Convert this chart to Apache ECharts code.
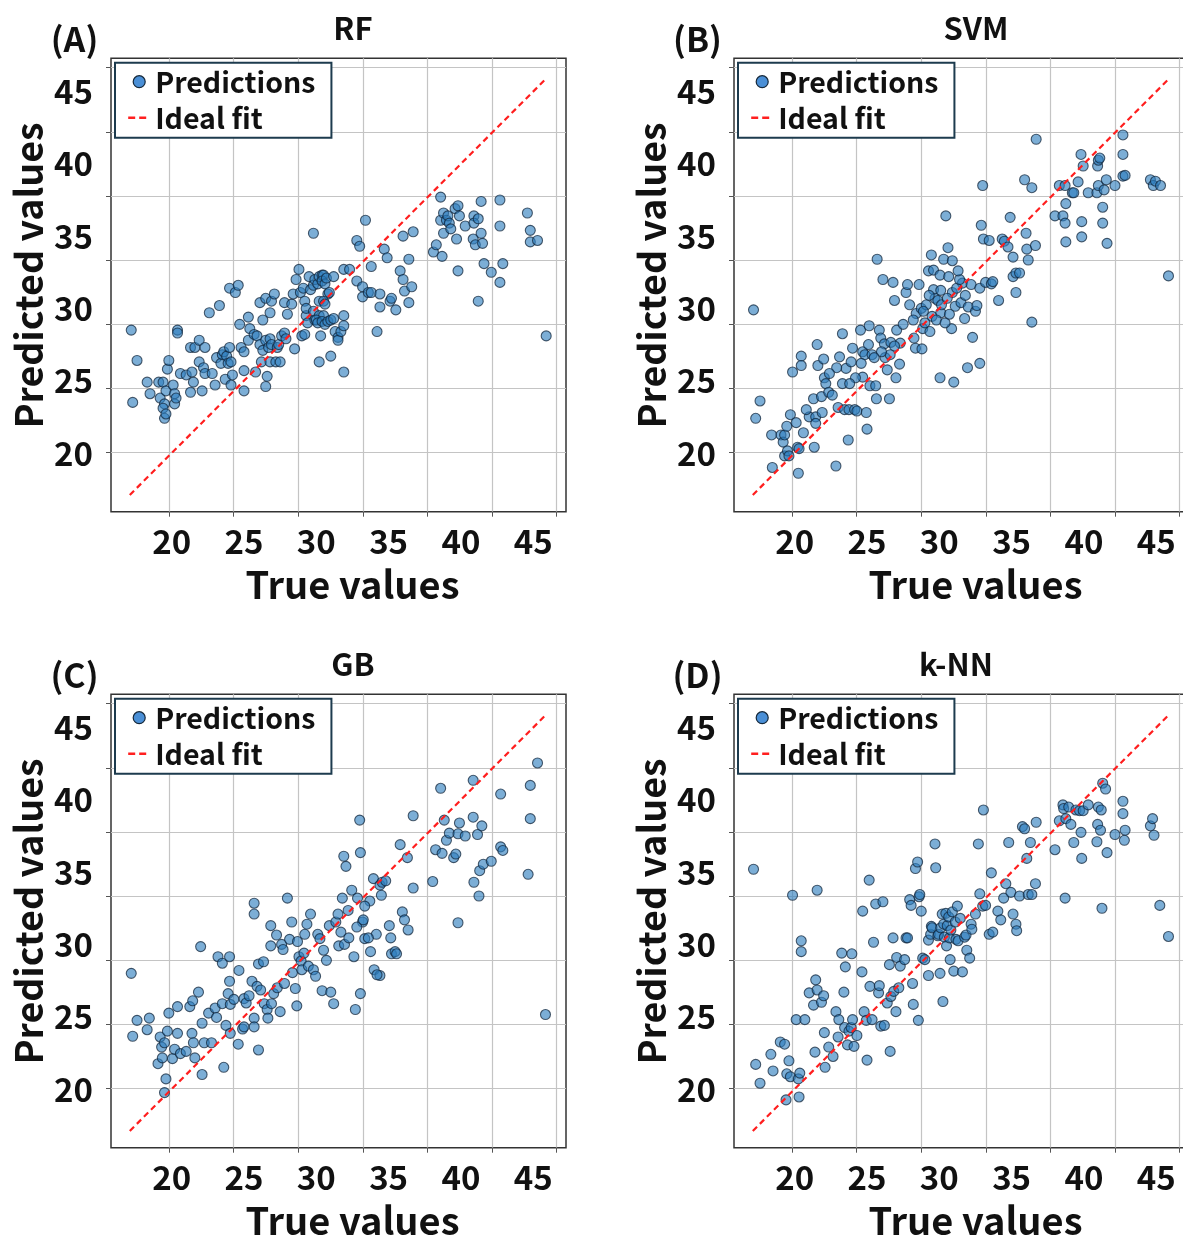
<!DOCTYPE html>
<html>
<head>
<meta charset="utf-8">
<script src="https://cdn.jsdelivr.net/npm/echarts@6/dist/echarts.min.js"></script>
<style>
  html, body { margin: 0; padding: 0; background: #fff; }
  #chart { width: 1183px; height: 1243px; }
</style>
</head>
<body>
<div id="chart"></div>
<script>
// panel titles and tags
const panelNames = ['RF', 'SVM', 'GB', 'k-NN'];
const panelTags = ['(A)', '(B)', '(C)', '(D)'];

// tick labels printed on both axes, and the values where the grid lines sit
const tickLabels = [20, 25, 30, 35, 40, 45];
const gridTicksX = [19.81, 24.28, 28.75, 33.22, 37.68, 42.15, 46.62];
const gridTicksY = [20.05, 24.48, 28.91, 33.35, 37.78, 42.21, 46.65];

// ideal fit runs from min to max true value
const idealRange = [17.1, 45.85];

// [true, predicted]
const rfPoints = [
  [17.2,28.5],[17.3,23.5],[17.6,26.4],[18.3,24.9],[18.5,24.1],[19.1,24.9],[19.4,24.9],[19.2,23.8],[19.5,23.4],[19.4,23.1],
  [19.5,22.4],[19.6,22.7],[19.6,24.3],[19.7,25.8],[19.8,26.4],[20.1,24.7],[20.2,24.1],[20.2,23.4],[20.3,23.8],[20.4,28.5],
  [20.4,28.3],[20.6,25.5],[21.0,25.4],[21.3,27.3],[21.3,24.2],[21.4,25.6],[21.5,24.9],[21.6,27.3],[21.9,27.8],[21.9,26.3],
  [22.1,24.3],[22.2,25.9],[22.3,27.3],[22.3,25.5],[22.6,29.7],[22.8,25.5],[23.0,24.7],[23.3,30.2],[23.1,26.6],[23.4,26.2],
  [23.5,26.8],[23.6,27.0],[23.7,25.1],[23.8,26.7],[23.9,26.2],[24.0,27.3],[24.0,31.4],[24.1,26.3],[24.1,24.7],[24.2,25.4],
  [24.4,31.1],[24.6,31.6],[24.7,28.9],[24.8,27.3],[25.0,24.3],[25.0,25.7],[25.0,27.0],[25.3,27.8],[25.3,29.4],[25.4,28.6],
  [25.7,28.2],[25.8,25.6],[25.9,28.1],[26.1,30.4],[26.1,27.5],[26.2,26.3],[26.3,29.2],[26.3,27.1],[26.5,30.7],[26.5,27.8],
  [26.6,25.3],[26.5,24.6],[26.7,27.3],[26.8,29.7],[26.8,27.9],[26.8,26.3],[26.9,30.5],[26.9,27.5],[27.1,31.0],[27.2,26.3],
  [27.3,27.3],[27.4,27.5],[27.5,26.3],[27.6,28.1],[27.8,28.3],[27.8,30.4],[27.9,27.9],[28.0,29.6],[28.3,30.3],[28.4,31.0],
  [28.5,27.2],[28.6,32.0],[28.8,32.7],[28.9,31.1],[29.0,28.1],[29.1,31.4],[29.2,28.2],[29.2,30.5],[29.3,29.5],[29.3,30.0],
  [29.4,29.0],[29.5,32.2],[29.6,31.3],[29.8,31.6],[29.8,29.8],[29.9,32.0],[29.9,29.2],[29.8,35.2],[30.1,31.7],[30.2,32.2],
  [30.4,32.3],[30.5,32.3],[30.4,31.9],[30.6,31.7],[30.7,32.1],[30.8,31.0],[30.9,31.1],[31.2,32.2],[30.2,30.5],[30.5,30.5],
  [30.6,30.3],[30.2,29.5],[30.5,29.5],[30.0,29.2],[30.1,29.0],[30.4,29.1],[30.6,28.9],[30.8,29.1],[31.0,29.2],[30.3,28.1],
  [30.2,26.3],[31.2,29.3],[31.3,28.4],[31.5,28.0],[31.5,27.8],[31.7,28.4],[31.9,29.5],[31.9,28.8],[31.9,25.6],[31.0,26.7],
  [31.9,32.7],[32.3,32.7],[32.8,34.7],[33.0,34.3],[33.4,36.1],[33.8,32.9],[32.8,31.9],[33.2,31.5],[33.2,30.8],[33.6,31.1],
  [33.8,31.1],[34.2,28.4],[34.4,31.0],[34.4,30.1],[34.7,34.1],[34.9,33.5],[35.1,30.5],[35.2,30.7],[35.5,29.9],[35.8,32.6],
  [36.0,35.0],[36.0,32.0],[36.1,31.2],[36.4,33.4],[36.4,30.4],[36.6,31.5],[36.7,35.3],[38.1,33.9],[38.3,34.4],[38.6,36.1],
  [38.7,33.6],[38.8,35.2],[38.6,37.7],[38.8,36.6],[39.0,36.1],[39.1,36.4],[39.2,35.9],[39.3,35.5],[39.6,36.9],[39.8,37.1],
  [39.9,36.4],[39.7,34.8],[39.8,32.6],[40.3,35.7],[40.9,36.4],[40.9,35.9],[40.85,34.8],[41.0,34.4],[41.2,36.2],[41.4,37.4],
  [41.4,35.2],[41.5,34.5],[41.2,30.5],[41.6,33.1],[42.1,32.5],[42.7,37.5],[42.7,35.7],[42.9,33.1],[42.7,31.8],[44.6,36.6],
  [44.8,35.4],[44.8,34.6],[45.3,34.7],[45.9,28.1]
];

const svmPoints = [
  [17.15,29.9],[17.3,22.4],[17.6,23.6],[18.4,21.25],[18.45,19.0],[19.05,21.25],[19.2,20.75],[19.3,21.25],[19.45,21.85],[19.3,19.8],
  [19.5,20.15],[19.6,19.8],[19.7,22.65],[19.85,25.6],[20.1,22.1],[20.2,20.4],[20.25,18.6],[20.3,20.3],[20.45,26.7],[20.45,26.05],
  [20.6,21.4],[21.0,22.5],[21.3,23.75],[21.35,20.4],[21.45,22.5],[21.45,22.05],[21.55,27.5],[21.6,26.05],[21.85,23.9],[22.0,26.5],
  [22.05,25.2],[22.15,24.8],[22.35,24.2],[22.6,24.0],[22.85,19.1],[23.0,23.15],[23.1,26.65],[23.3,28.25],[23.3,24.8],[23.45,23.0],
  [23.55,25.85],[23.7,20.9],[23.75,23.0],[23.9,26.3],[24.0,27.25],[24.15,23.0],[24.3,22.9],[24.55,28.5],[24.7,25.25],[24.7,27.0],
  [24.85,26.8],[24.95,22.8],[25.0,21.65],[25.15,28.8],[25.2,24.65],[25.35,26.8],[25.6,24.65],[25.65,23.75],[25.7,33.4],[25.85,28.5],
  [25.95,27.95],[26.1,32.0],[26.2,27.55],[26.25,26.6],[26.4,25.75],[26.55,23.75],[26.65,27.65],[26.8,31.8],[26.9,30.55],[27.05,28.5],
  [27.0,25.2],[27.25,26.15],[27.7,31.1],[27.8,31.65],[27.95,30.25],[28.25,27.95],[28.35,27.25],[28.4,29.65],[28.6,31.65],[28.75,30.0],
  [28.8,27.2],[28.85,28.6],[29.1,30.25],[29.25,32.6],[29.35,28.4],[29.5,29.45],[29.6,32.65],[29.6,31.3],[29.7,30.7],[29.45,33.7],
  [30.05,32.3],[30.1,31.25],[30.1,29.7],[30.3,33.4],[30.45,36.4],[30.65,32.2],[30.85,28.6],[30.9,31.1],[31.1,30.15],[31.5,30.4],
  [31.6,31.75],[31.75,29.3],[31.95,25.9],[32.2,31.65],[29.9,30.55],[30.15,30.25],[30.55,30.7],[30.05,25.2],[31.0,24.9],[29.0,29.0],
  [29.3,30.9],[29.8,29.2],[30.4,29.0],[30.7,29.6],[31.2,31.4],[31.4,32.0],[31.8,30.9],[32.0,30.1],[32.5,29.8],[32.6,30.2],
  [28.9,29.8],[28.2,29.2],[27.5,28.9],[27.3,27.6],[26.9,27.4],[26.6,26.8],[26.0,27.0],[25.5,26.6],[25.1,27.5],[24.6,26.2],
  [24.2,25.2],[23.8,24.8],[22.9,25.9],[22.4,25.5],[21.9,22.8],[20.8,23.0],[32.3,28.0],[32.8,26.2],[31.3,32.6],[30.9,33.3],
  [30.6,34.2],[32.8,31.4],[33.0,38.5],[33.05,34.8],[32.9,35.75],[33.2,31.8],[33.45,34.7],[33.6,31.7],[33.7,31.85],[34.1,30.55],
  [34.35,34.8],[34.5,34.65],[34.75,34.25],[34.9,36.3],[35.1,33.55],[35.1,32.2],[35.3,32.45],[35.3,31.1],[35.55,32.45],[35.9,38.9],
  [36.0,35.2],[36.05,34.1],[36.15,33.35],[36.4,38.35],[36.4,29.05],[36.65,34.35],[36.7,41.7],[38.0,36.4],[38.3,38.5],[38.55,36.4],
  [38.7,38.5],[38.7,35.9],[38.75,37.25],[38.75,34.6],[39.2,38.0],[39.3,38.0],[39.6,38.75],[39.8,40.65],[39.85,36.0],[39.85,34.95],
  [39.95,39.85],[40.3,38.0],[40.9,38.0],[40.95,39.85],[41.0,40.25],[41.1,40.4],[41.0,38.5],[41.3,37.0],[41.3,35.9],[41.4,38.2],
  [41.55,38.9],[41.6,34.5],[42.15,38.5],[42.7,42.0],[42.7,40.65],[42.7,39.15],[42.85,39.2],[44.6,38.9],[44.8,38.5],[44.95,38.8],
  [45.3,38.5],[45.85,32.25]
];

const gbPoints = [
  [17.2,28.0],[17.3,23.65],[17.6,24.75],[18.3,24.1],[18.45,24.9],[19.05,21.75],[19.2,23.6],[19.3,22.9],[19.35,22.15],[19.5,23.2],
  [19.5,19.75],[19.6,20.7],[19.8,25.25],[19.7,24.0],[20.05,22.1],[20.2,22.75],[20.4,23.85],[20.4,25.7],[20.6,22.45],[21.0,22.6],
  [21.25,25.7],[21.4,23.85],[21.45,26.1],[21.5,23.2],[21.6,22.15],[21.85,26.7],[22.0,29.85],[22.1,21.0],[22.1,24.55],[22.25,23.2],
  [22.55,25.25],[22.75,23.2],[23.0,25.6],[23.1,24.95],[23.2,29.15],[23.5,28.7],[23.5,25.9],[23.6,21.5],[23.75,24.4],[23.9,26.6],
  [24.0,29.15],[24.0,27.45],[24.05,23.85],[24.05,25.85],[24.3,26.2],[24.6,23.1],[24.65,28.2],[24.9,24.15],[25.0,24.3],[25.0,26.25],
  [25.15,25.95],[25.35,26.45],[25.55,27.45],[25.7,32.85],[25.7,32.1],[25.7,24.9],[25.7,24.3],[25.9,27.1],[26.0,22.7],[26.0,28.65],
  [26.15,26.85],[26.35,28.8],[26.4,25.9],[26.6,25.5],[26.65,24.9],[26.85,29.9],[26.85,31.3],[26.9,25.9],[27.05,26.6],[27.25,30.65],
  [27.3,27.0],[27.5,25.35],[27.6,30.0],[27.7,29.65],[27.8,27.3],[28.0,33.2],[28.15,30.35],[28.3,31.55],[28.35,28.05],[28.55,26.95],
  [28.65,25.75],[28.7,30.2],[28.8,29.15],[28.95,28.85],[29.0,28.25],[29.15,29.4],[29.2,30.7],[29.35,31.4],[29.45,28.5],[29.6,32.1],
  [29.8,28.25],[29.95,27.8],[30.1,30.7],[30.25,30.4],[30.4,26.8],[30.5,29.6],[30.7,28.9],[30.9,31.3],[31.0,26.7],[31.2,25.9],
  [31.35,31.55],[31.5,32.1],[31.55,29.9],[31.7,30.85],[31.8,33.2],[31.9,36.1],[31.95,30.0],[32.05,35.4],[32.2,32.35],[32.25,30.45],
  [32.45,33.75],[32.6,29.15],[32.7,25.5],[32.85,33.2],[33.05,26.6],[33.2,31.55],[33.35,30.4],[33.7,33.0],[33.95,34.55],[34.0,28.25],
  [34.15,30.7],[34.4,27.85],[32.8,31.2],[33.0,38.6],[33.05,36.35],[33.25,31.7],[33.35,32.65],[33.6,30.45],[33.75,29.5],[34.2,27.9],
  [34.4,34.1],[34.5,33.4],[34.55,34.3],[34.8,34.4],[35.05,31.3],[35.15,30.45],[35.2,29.35],[35.45,29.5],[35.55,29.35],[35.8,36.9],
  [35.95,32.25],[36.1,31.7],[36.3,36.0],[36.35,31.0],[36.7,38.9],[36.7,33.9],[38.05,34.35],[38.25,36.55],[38.6,40.8],[38.7,36.3],
  [38.85,38.6],[39.0,37.2],[39.2,37.7],[39.5,36.0],[39.65,36.25],[39.8,37.65],[39.9,38.4],[39.8,31.5],[40.3,37.5],[40.85,41.35],
  [40.85,38.8],[40.9,34.3],[41.15,37.6],[41.25,33.35],[41.3,35.1],[41.45,38.2],[41.55,35.55],[42.1,35.75],[42.75,40.4],[42.75,36.75],
  [42.9,36.5],[44.65,34.85],[44.8,41.0],[44.8,38.7],[45.3,42.55],[45.85,25.15]
];

const knnPoints = [
  [17.15,35.2],[17.3,21.7],[17.6,20.4],[18.35,22.4],[18.5,21.25],[19.0,23.25],[19.3,23.1],[19.4,19.25],[19.45,21.05],[19.6,21.95],
  [19.7,20.85],[19.85,33.4],[20.1,24.8],[20.25,20.7],[20.3,19.45],[20.35,21.1],[20.45,30.25],[20.45,29.5],[20.7,24.8],[21.0,26.65],
  [21.3,25.8],[21.4,22.55],[21.45,27.55],[21.55,33.75],[21.55,26.85],[21.85,26.0],[22.0,26.45],[22.05,23.9],[22.1,21.5],[22.35,22.9],
  [22.65,22.25],[22.85,25.35],[23.0,23.6],[23.05,24.8],[23.25,29.4],[23.4,26.7],[23.45,24.25],[23.5,28.45],[23.65,23.05],[23.75,24.0],
  [23.9,24.25],[23.95,29.35],[24.0,24.8],[24.1,22.95],[24.3,23.7],[24.65,28.1],[24.7,32.3],[24.8,25.35],[24.95,24.75],[25.0,22.0],
  [25.15,34.45],[25.2,27.1],[25.35,24.8],[25.45,30.15],[25.6,32.8],[25.8,26.65],[25.85,27.15],[25.95,24.35],[26.1,32.95],[26.2,24.4],
  [26.4,25.95],[26.55,28.6],[26.6,22.6],[26.65,26.4],[26.8,30.45],[26.85,26.75],[27.0,25.35],[27.05,29.1],[27.2,27.0],[27.3,28.5],
  [27.6,28.95],[27.7,30.45],[27.8,30.45],[27.95,33.1],[28.05,32.7],[28.15,27.3],[28.2,25.85],[28.35,35.25],[28.5,35.7],[28.55,24.75],
  [28.6,33.3],[28.65,33.45],[28.75,32.3],[28.85,29.05],[29.0,28.95],[29.25,27.85],[29.25,30.3],[29.4,30.7],[29.45,31.25],[29.5,31.15],
  [29.7,36.95],[29.75,35.3],[29.9,30.6],[29.95,30.7],[30.05,28.0],[30.1,31.15],[30.2,32.1],[30.25,26.05],[30.3,31.4],[30.35,30.5],
  [30.45,32.15],[30.5,29.9],[30.55,31.3],[30.65,31.9],[30.7,30.45],[30.75,28.95],[30.8,31.0],[30.9,32.25],[31.0,28.15],[31.1,31.55],
  [31.15,30.35],[31.25,32.65],[31.3,30.25],[31.45,31.8],[31.6,28.1],[31.75,30.5],[31.85,30.65],[31.9,29.6],[32.1,29.05],[32.2,31.4],
  [32.25,31.05],[32.5,32.1],[32.7,36.95],[32.8,33.5],[33.0,32.65],[33.05,39.3],[33.2,32.7],[33.45,30.7],[33.6,34.95],[33.7,30.85],
  [34.05,32.3],[34.25,31.7],[34.45,33.2],[34.6,34.2],[34.8,37.05],[34.95,33.6],[35.1,32.1],[35.3,31.4],[35.35,30.95],[35.55,33.35],
  [35.75,38.15],[35.9,38.0],[36.05,35.95],[36.15,33.45],[36.3,37.05],[36.4,33.45],[36.65,34.2],[36.7,38.45],[38.0,36.55],[38.3,38.55],
  [38.55,39.65],[38.6,39.4],[38.7,33.2],[38.75,38.7],[38.95,39.5],[39.1,38.3],[39.3,37.05],[39.45,39.3],[39.7,39.25],[39.8,37.75],
  [39.85,35.95],[39.95,39.25],[40.3,39.65],[40.9,37.1],[40.95,38.3],[41.0,39.5],[41.15,37.9],[41.2,39.3],[41.25,32.5],[41.3,41.15],
  [41.5,40.75],[41.6,36.35],[42.15,37.6],[42.7,39.9],[42.7,39.05],[42.8,37.2],[42.85,37.9],[44.6,38.2],[44.75,38.7],[44.85,37.55],
  [45.25,32.7],[45.85,30.55]
];

const panelData = [rfPoints, svmPoints, gbPoints, knnPoints];

// layout: panel offsets in px and title centres
const panelOffsets = [[0, 0], [623, 0], [0, 636], [623, 636]];
const titleCenters = [353, 976, 353, 956];

const FONT = '"Noto Sans CJK JP", "Noto Sans", sans-serif';
const textBase = { fontFamily: FONT, fontWeight: 'bold', color: '#111' };
const RED = '#ff1f1f';

const chart = echarts.init(document.getElementById('chart'), null, { renderer: 'canvas' });

const grid = [], xAxis = [], yAxis = [], series = [], legend = [], title = [];

panelData.forEach(function (points, i) {
  const dx = panelOffsets[i][0];
  const dy = panelOffsets[i][1];

  grid.push({
    left: 111 + dx, top: 58.3 + dy, width: 455, height: 453.4,
    containLabel: false, outerBoundsMode: 'none',
    show: true, borderColor: '#333', borderWidth: 1.5, backgroundColor: 'transparent'
  });

  xAxis.push({
    type: 'value', gridIndex: i, min: 15.8, max: 47.27,
    name: 'True values', nameLocation: 'middle', nameGap: 54,
    nameTextStyle: Object.assign({ fontSize: 38, padding: [0, 0, 0, 28] }, textBase),
    axisLine: { show: false },
    axisTick: { show: true, customValues: gridTicksX, length: 5, lineStyle: { color: '#555', width: 1 } },
    axisLabel: Object.assign({ customValues: tickLabels, fontSize: 33, margin: 13 }, textBase),
    splitLine: { show: true, lineStyle: { color: '#c4c4c4', width: 1.2 } }
  });

  yAxis.push({
    type: 'value', gridIndex: i, min: 15.94, max: 47.3,
    name: 'Predicted values', nameLocation: 'middle', nameGap: 64,
    nameTextStyle: Object.assign({ fontSize: 37.5, padding: [0, 0, 0, 19] }, textBase),
    axisLine: { show: false },
    axisTick: { show: true, customValues: gridTicksY, length: 5, lineStyle: { color: '#555', width: 1 } },
    axisLabel: Object.assign({ customValues: tickLabels, fontSize: 33, margin: 18 }, textBase),
    splitLine: { show: true, lineStyle: { color: '#c4c4c4', width: 1.2 } }
  });

  series.push({
    name: 'Predictions', type: 'scatter', xAxisIndex: i, yAxisIndex: i,
    data: points, symbolSize: 10,
    itemStyle: { color: 'rgba(45,125,190,0.78)', borderColor: 'rgba(15,35,55,0.9)', borderWidth: 1.1 }
  });

  series.push({
    name: 'Ideal fit', type: 'line', xAxisIndex: i, yAxisIndex: i,
    data: [[idealRange[0], idealRange[0]], [idealRange[1], idealRange[1]]],
    symbol: 'none', silent: true, z: 3,
    lineStyle: { color: RED, width: 2.2, type: [6, 4] },
    itemStyle: { color: RED, opacity: 0 }
  });

  legend.push({
    orient: 'vertical', left: 115 + dx, top: 62.7 + dy,
    data: [
      { name: 'Predictions', icon: 'circle',
        itemStyle: { color: '#4a8fd6', borderColor: '#15283a', borderWidth: 1.2, opacity: 1 } },
      { name: 'Ideal fit', itemStyle: { opacity: 0 },
        lineStyle: { color: RED, width: 2.4, type: [7, 4] } }
    ],
    selectedMode: false,
    itemWidth: 22, itemHeight: 12, itemGap: 6,
    backgroundColor: '#fff', borderColor: '#1d3b4e', borderWidth: 2, borderRadius: 0,
    padding: [4, 16, 5, 12],
    textStyle: Object.assign({ fontSize: 28.5, lineHeight: 30 }, textBase)
  });

  title.push({
    text: panelNames[i], left: titleCenters[i], top: 13 + dy, textAlign: 'center', padding: 0,
    textStyle: Object.assign({ fontSize: 31 }, textBase)
  });
  title.push({
    text: panelTags[i], left: 74.5 + dx, top: 22 + dy, textAlign: 'center', padding: 0,
    textStyle: Object.assign({ fontSize: 34 }, textBase)
  });
});

chart.setOption({
  animation: false,
  backgroundColor: '#fff',
  title: title,
  legend: legend,
  grid: grid,
  xAxis: xAxis,
  yAxis: yAxis,
  series: series
});
</script>
</body>
</html>
